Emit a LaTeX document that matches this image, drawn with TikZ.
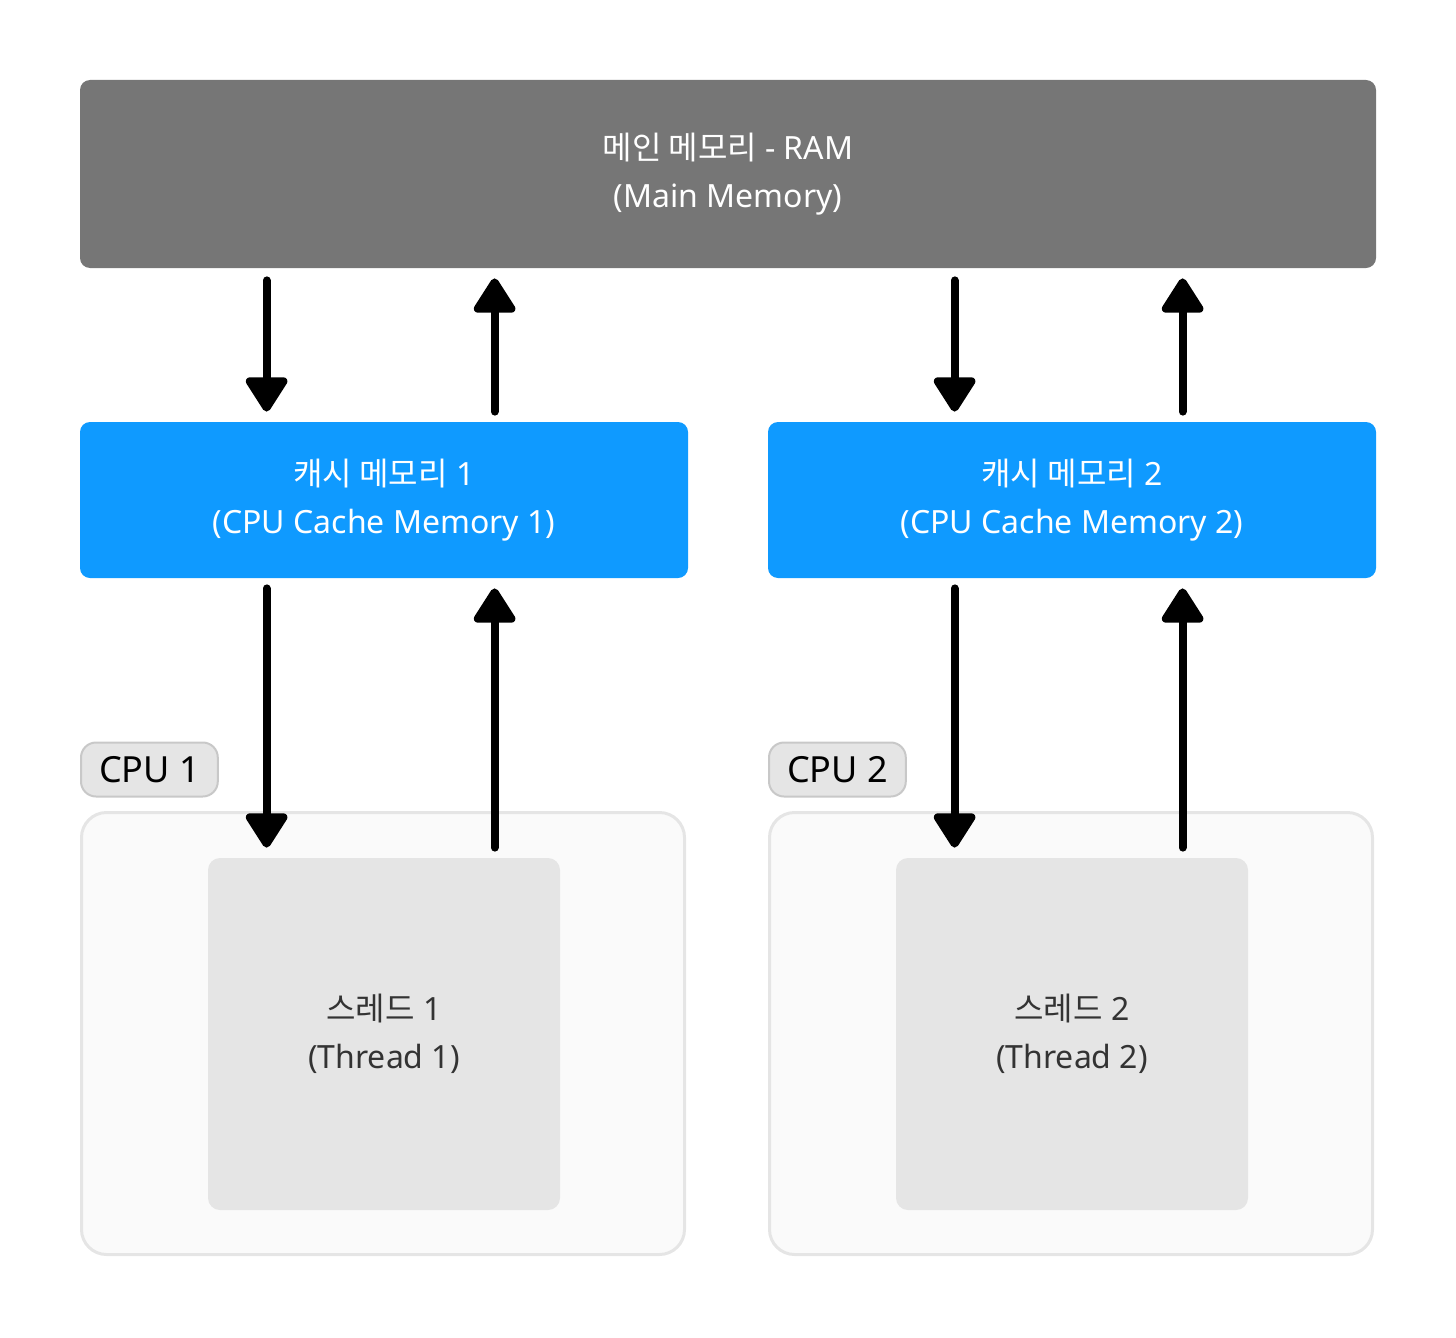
\documentclass[tikz,border=0pt]{standalone}
\usepackage{fontspec}
\setmainfont{Noto Sans}
\newfontfamily\kr{Noto Sans CJK KR}
\usepackage{xcolor}
\usepackage{tikz}
\usetikzlibrary{arrows.meta,positioning,calc}

\definecolor{ramgray}{HTML}{767676}
\definecolor{cacheblue}{HTML}{0F9AFF}
\definecolor{cpufill}{HTML}{FAFAFA}
\definecolor{lightgray}{HTML}{E5E5E5}
\definecolor{labelborder}{HTML}{C8C8C8}
\definecolor{threadtext}{HTML}{333333}

\begin{document}
\begin{tikzpicture}[
      x=0.5pt, y=-0.5pt,
      ramnode/.style={
         rectangle,
         rounded corners=5pt,
         fill=ramgray,
         text=white,
         align=center,
         minimum width=648pt,
         minimum height=94pt,
         font=\fontsize{16}{24}\selectfont},
      cachenode/.style={
         rectangle,
         rounded corners=5pt,
         fill=cacheblue,
         text=white,
         align=center,
         minimum width=304pt,
         minimum height=78pt,
         font=\fontsize{16}{24}\selectfont},
      cpubox/.style={
         rectangle,
         rounded corners=12.5pt,
         draw=lightgray,
         line width=1.5pt,
         fill=cpufill,
         minimum width=301.5pt,
         minimum height=221pt},
      cpulabel/.style={
         rectangle,
         rounded corners=7.5pt,
         draw=labelborder,
         line width=1pt,
         fill=lightgray,
         anchor=west,
         inner xsep=9pt,
         minimum height=27pt,
         font=\fontsize{18}{20}\selectfont},
      threadnode/.style={
         rectangle,
         rounded corners=6pt,
         fill=lightgray,
         text=threadtext,
         align=center,
         minimum width=176pt,
         minimum height=176pt,
         font=\fontsize{16}{24}\selectfont},
      myarrow/.style={
         -{Triangle[width=23pt,length=19pt,round]},
         line width=4pt,
         line cap=round,
         line join=round}
      ]
      \useasboundingbox (0,0) rectangle (1456,1338);

      \node[ramnode] (ram) at (728,174) {{\kr 메인 메모리} - RAM\\(Main Memory)};
      \node[cachenode] (cache1) at (384,500) {{\kr 캐시 메모리} 1\\(CPU Cache Memory 1)};
      \node[cachenode] (cache2) at (1072,500) {{\kr 캐시 메모리} 2\\(CPU Cache Memory 2)};

      \node[cpubox] (cpu1) at (383,1033.5) {};
      \node[cpubox] (cpu2) at (1071,1033.5) {};
      \node[cpulabel] (lab1) at (80,769.5) {CPU 1};
      \node[cpulabel] (lab2) at (768,769.5) {CPU 2};

      \node[threadnode] (thread1) at (384,1034) {{\kr 스레드} 1\\(Thread 1)};
      \node[threadnode] (thread2) at (1072,1034) {{\kr 스레드} 2\\(Thread 2)};

    \foreach \i in {1,2} {% ram <-> cache, cache <-> thread
       \draw [myarrow] ($(cache\i.north west |- ram.south)+(93.5pt,-6pt)$) -- ($(cache\i.north west)+(93.5pt,5pt)$);
       \draw [myarrow] ($(cache\i.north west)+(207.5pt,5pt)$) -- ($(cache\i.north west |- ram.south)+(207.5pt,-5pt)$);
       \draw [myarrow] ($(cache\i.south west)+(93.5pt,-5pt)$) -- ($(cache\i.south west |- thread\i.north)+(93.5pt,5pt)$);
       \draw [myarrow] ($(cache\i.south west |- thread\i.north)+(207.5pt,5pt)$) -- ($(cache\i.south west)+(207.5pt,-5pt)$);
    }
    \end{tikzpicture}
\end{document}
